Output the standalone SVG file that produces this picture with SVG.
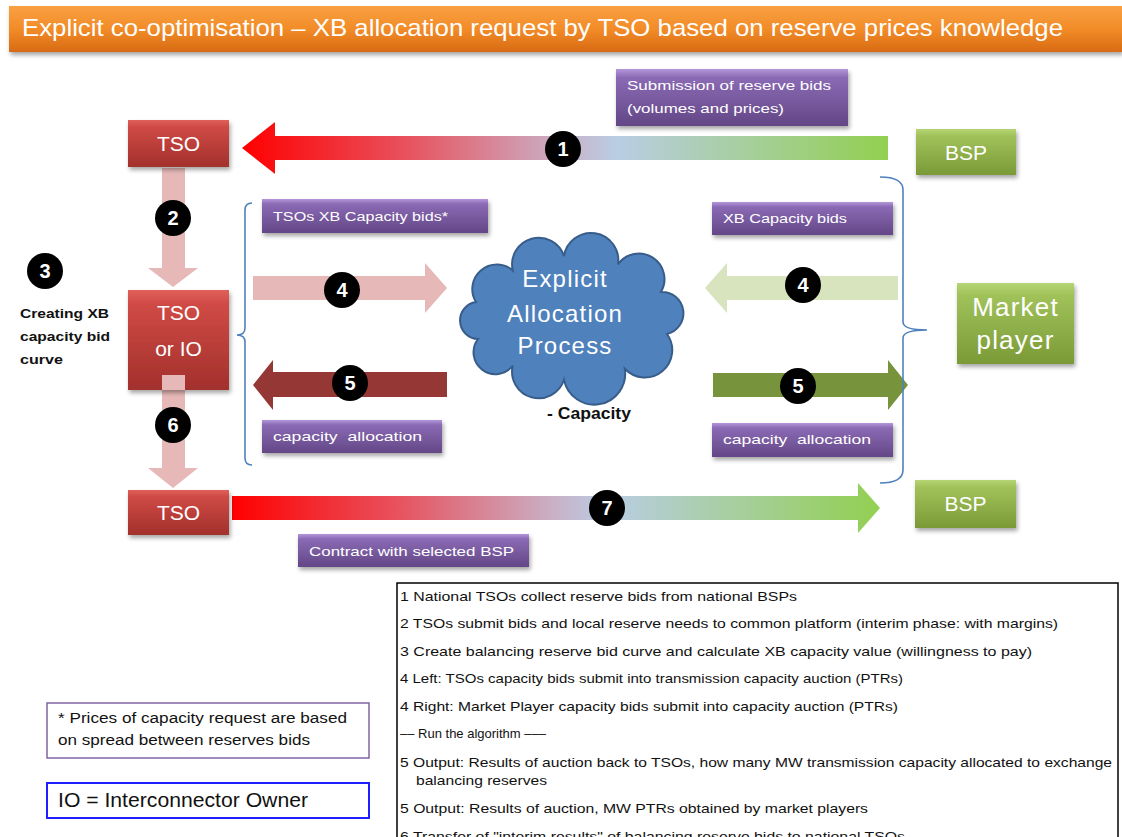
<svg xmlns="http://www.w3.org/2000/svg" width="1122" height="837" viewBox="0 0 1122 837">
  <defs>
    <linearGradient id="gTitle" x1="0" y1="0" x2="0" y2="1">
      <stop offset="0" stop-color="#f9a043"/>
      <stop offset="0.5" stop-color="#f28c28"/>
      <stop offset="1" stop-color="#d86a12"/>
    </linearGradient>
    <linearGradient id="gRed" x1="0" y1="0" x2="0" y2="1">
      <stop offset="0" stop-color="#e0605a"/>
      <stop offset="0.15" stop-color="#cf4a45"/>
      <stop offset="1" stop-color="#a2302c"/>
    </linearGradient>
    <linearGradient id="gGreen" x1="0" y1="0" x2="0" y2="1">
      <stop offset="0" stop-color="#b6d575"/>
      <stop offset="0.15" stop-color="#a1c25a"/>
      <stop offset="1" stop-color="#7a9a37"/>
    </linearGradient>
    <linearGradient id="gPurple" x1="0" y1="0" x2="0" y2="1">
      <stop offset="0" stop-color="#b497da"/>
      <stop offset="0.15" stop-color="#8a6ab4"/>
      <stop offset="1" stop-color="#634786"/>
    </linearGradient>
    <linearGradient id="gFlowLeft" gradientUnits="userSpaceOnUse" x1="242" y1="0" x2="888" y2="0">
      <stop offset="0" stop-color="#ff0000"/>
      <stop offset="0.25" stop-color="#e8505c"/>
      <stop offset="0.5" stop-color="#c9b2c8"/>
      <stop offset="0.58" stop-color="#b9cde4"/>
      <stop offset="1" stop-color="#92d050"/>
    </linearGradient>
    <linearGradient id="gFlowRight" gradientUnits="userSpaceOnUse" x1="232" y1="0" x2="880" y2="0">
      <stop offset="0" stop-color="#ff0000"/>
      <stop offset="0.25" stop-color="#e8505c"/>
      <stop offset="0.5" stop-color="#c9b2c8"/>
      <stop offset="0.58" stop-color="#b9cde4"/>
      <stop offset="1" stop-color="#92d050"/>
    </linearGradient>
    <filter id="shadow" x="-10%" y="-10%" width="130%" height="140%">
      <feDropShadow dx="1.5" dy="3" stdDeviation="2" flood-color="#000" flood-opacity="0.35"/>
    </filter>
  </defs>
  <style>
    .lbl { font-family: "Liberation Sans", Arial, sans-serif; fill: #ffffff; text-anchor: middle; }
    .tag { font-family: "Liberation Sans", Arial, sans-serif; fill: #ffffff; font-size: 13px; }
    .num { font-family: "Liberation Sans", Arial, sans-serif; fill: #ffffff; font-size: 20px; font-weight: bold; text-anchor: middle; }
    .dot { fill: #000000; }
    .brace { fill: none; stroke: #4f81bd; stroke-width: 1.6; }
    .legend { font-family: "Liberation Sans", Arial, sans-serif; fill: #111111; font-size: 13px; }
    .note { font-family: "Liberation Sans", Arial, sans-serif; fill: #111111; }
    .red { fill: url(#gRed); filter: url(#shadow); }
    .green { fill: url(#gGreen); filter: url(#shadow); }
    .purple { fill: url(#gPurple); filter: url(#shadow); }
  </style>

  <rect width="1122" height="837" fill="#ffffff"/>

  <!-- title bar -->
  <g id="title">
    <rect x="9" y="6" width="1113" height="46" fill="url(#gTitle)" filter="url(#shadow)"/>
    <text x="22" y="36" font-family="'Liberation Sans', Arial, sans-serif" font-size="24" fill="#ffffff" textLength="1041" lengthAdjust="spacingAndGlyphs">Explicit co-optimisation – XB allocation request by TSO based on reserve prices knowledge</text>
  </g>

  <!-- connectors: block arrows, step numbers and braces -->
  <g id="connectors">
    <!-- 1: BSP to TSO -->
    <polygon points="242,148 275,122 275,136 888,136 888,160 275,160 275,174" fill="url(#gFlowLeft)"/>
    <!-- 7: TSO to BSP -->
    <polygon points="232,496 858,496 858,483 880,508 858,533 858,520 232,520" fill="url(#gFlowRight)"/>
    <!-- 2: TSO down to TSO or IO -->
    <polygon points="162,168 185,168 185,268 198,268 173,287 148,268 162,268" fill="#e6b9b8"/>
    <!-- 6: TSO or IO down to TSO -->
    <polygon points="162,375 185,375 185,468 198,468 173,488 148,468 162,468" fill="#e6b9b8"/>
    <!-- 4 left: bids into allocation -->
    <polygon points="253,276 425,276 425,263 447,288 425,313 425,300 253,300" fill="#e6b9b8"/>
    <!-- 5 left: allocation back -->
    <polygon points="253,385 273,360 273,372 447,372 447,397 273,397 273,410" fill="#953735"/>
    <!-- 4 right: market bids into allocation -->
    <polygon points="705,288 727,263 727,276 898,276 898,300 727,300 727,313" fill="#d7e4bd"/>
    <!-- 5 right: allocation to market player -->
    <polygon points="713,373 888,373 888,360 908,385 888,410 888,397 713,397" fill="#77933c"/>

    <path class="brace" d="M252,203 Q245,203 245,210 L245,328 Q245,335 237,335 Q245,335 245,342 L245,458 Q245,465 252,465"/>
    <path class="brace" d="M880,177 Q903,177 903,190 L903,322 Q903,330 927,330 Q903,330 903,338 L903,470 Q903,483 880,483"/>

    <circle class="dot" cx="563" cy="149" r="18"/><text class="num" x="563" y="156">1</text>
    <circle class="dot" cx="173" cy="218" r="18"/><text class="num" x="173" y="225">2</text>
    <circle class="dot" cx="45" cy="271" r="18"/><text class="num" x="45" y="278">3</text>
    <circle class="dot" cx="342" cy="290" r="18"/><text class="num" x="342" y="297">4</text>
    <circle class="dot" cx="803" cy="285" r="18"/><text class="num" x="803" y="292">4</text>
    <circle class="dot" cx="350" cy="383" r="18"/><text class="num" x="350" y="390">5</text>
    <circle class="dot" cx="798" cy="386" r="18"/><text class="num" x="798" y="393">5</text>
    <circle class="dot" cx="173" cy="425" r="18"/><text class="num" x="173" y="432">6</text>
    <circle class="dot" cx="607" cy="508" r="18"/><text class="num" x="607" y="515">7</text>
  </g>

  <!-- nodes -->
  <g id="tso-top">
    <rect class="red" x="128" y="120" width="101" height="47"/>
    <text class="lbl" x="178.5" y="151" font-size="21">TSO</text>
  </g>
  <g id="tso-io">
    <rect class="red" x="128" y="290" width="101" height="100"/>
    <text class="lbl" x="178.5" y="320" font-size="21">TSO</text>
    <text class="lbl" x="178.5" y="356" font-size="21">or IO</text>
  </g>
  <g id="tso-bottom">
    <rect class="red" x="128" y="490" width="101" height="45"/>
    <text class="lbl" x="178.5" y="520" font-size="21">TSO</text>
  </g>
  <!-- arrow 6 shaft sits on top of the TSO or IO box -->
  <polygon points="162,375 185,375 185,390 162,390" fill="#e6b9b8"/>

  <g id="bsp-top">
    <rect class="green" x="916" y="129" width="100" height="46"/>
    <text class="lbl" x="966" y="160" font-size="21">BSP</text>
  </g>
  <g id="bsp-bottom">
    <rect class="green" x="915" y="480" width="101" height="48"/>
    <text class="lbl" x="965.5" y="511" font-size="21">BSP</text>
  </g>
  <g id="market-player">
    <rect class="green" x="957" y="283" width="117" height="81"/>
    <text class="lbl" x="1015.5" y="316" font-size="26" letter-spacing="1.2" fill="#f2f6e8">Market</text>
    <text class="lbl" x="1015.5" y="349" font-size="26" letter-spacing="1.2" fill="#f2f6e8">player</text>
  </g>

  <g id="allocation-process">
    <path d="M476,302 A24.5,24.5 0 0 1 512.8,270.5 A26.6,26.6 0 0 1 564,256.2 A27.3,27.3 0 0 1 618,264.3 A25.6,25.6 0 0 1 661,292 A21.3,21.3 0 0 1 667,334 A27.4,27.4 0 0 1 624.8,368.8 A30.9,30.9 0 0 1 564,379.8 A26.6,26.6 0 0 1 512.8,365.5 A21.6,21.6 0 0 1 478,339 A18.6,18.6 0 0 1 476,302 Z" fill="#4f81bd" stroke="#385d8a" stroke-width="2"/>
    <text class="lbl" x="565" y="287" font-size="24" letter-spacing="1.2" fill="#e6edf7">Explicit</text>
    <text class="lbl" x="565" y="322" font-size="24" letter-spacing="1.2" fill="#e6edf7">Allocation</text>
    <text class="lbl" x="565" y="354" font-size="24" letter-spacing="1.2" fill="#e6edf7">Process</text>
    <text x="547" y="419" font-family="'Liberation Sans', Arial, sans-serif" font-size="16" font-weight="bold" fill="#111111" textLength="84" lengthAdjust="spacingAndGlyphs">- Capacity</text>
  </g>

  <g id="step3-note">
    <text x="20" y="318" font-family="'Liberation Sans', Arial, sans-serif" font-size="13" font-weight="bold" fill="#111111" textLength="89" lengthAdjust="spacingAndGlyphs">Creating XB</text>
    <text x="20" y="341" font-family="'Liberation Sans', Arial, sans-serif" font-size="13" font-weight="bold" fill="#111111" textLength="90" lengthAdjust="spacingAndGlyphs">capacity bid</text>
    <text x="20" y="364" font-family="'Liberation Sans', Arial, sans-serif" font-size="13" font-weight="bold" fill="#111111" textLength="43" lengthAdjust="spacingAndGlyphs">curve</text>
  </g>

  <!-- purple message tags -->
  <g id="tag-submission">
    <rect class="purple" x="616" y="69" width="232" height="57"/>
    <text class="tag" x="627" y="90" textLength="204" lengthAdjust="spacingAndGlyphs">Submission  of reserve bids</text>
    <text class="tag" x="627" y="113" textLength="157" lengthAdjust="spacingAndGlyphs">(volumes  and prices)</text>
  </g>
  <g id="tag-tso-bids">
    <rect class="purple" x="262" y="199" width="226" height="34"/>
    <text class="tag" x="273" y="221" textLength="175" lengthAdjust="spacingAndGlyphs">TSOs XB Capacity bids*</text>
  </g>
  <g id="tag-market-bids">
    <rect class="purple" x="712" y="202" width="181" height="33"/>
    <text class="tag" x="723" y="223" textLength="124" lengthAdjust="spacingAndGlyphs">XB Capacity bids</text>
  </g>
  <g id="tag-alloc-left">
    <rect class="purple" x="262" y="420" width="180" height="33"/>
    <text class="tag" x="273" y="441" textLength="149" lengthAdjust="spacingAndGlyphs" style="white-space:pre">capacity  allocation</text>
  </g>
  <g id="tag-alloc-right">
    <rect class="purple" x="712" y="423" width="181" height="34"/>
    <text class="tag" x="723" y="444" textLength="148" lengthAdjust="spacingAndGlyphs" style="white-space:pre">capacity  allocation</text>
  </g>
  <g id="tag-contract">
    <rect class="purple" x="298" y="534" width="231" height="33"/>
    <text class="tag" x="309" y="556" textLength="205" lengthAdjust="spacingAndGlyphs">Contract with selected BSP</text>
  </g>

  <!-- step list -->
  <g id="steps-legend">
    <rect x="397" y="583" width="721" height="300" fill="#ffffff" stroke="#000000" stroke-width="1.5"/>
    <text class="legend" x="400" y="601" textLength="397" lengthAdjust="spacingAndGlyphs">1 National TSOs collect reserve bids from national BSPs</text>
    <text class="legend" x="400" y="628" textLength="658" lengthAdjust="spacingAndGlyphs">2 TSOs submit bids and  local reserve needs to common platform (interim phase: with margins)</text>
    <text class="legend" x="400" y="656" textLength="632" lengthAdjust="spacingAndGlyphs">3 Create balancing reserve bid curve and calculate XB capacity value (willingness to pay)</text>
    <text class="legend" x="400" y="683" textLength="503" lengthAdjust="spacingAndGlyphs">4 Left: TSOs capacity bids submit into transmission capacity auction (PTRs)</text>
    <text class="legend" x="400" y="711" textLength="498" lengthAdjust="spacingAndGlyphs">4 Right: Market Player capacity bids submit into capacity auction (PTRs)</text>
    <text class="legend" x="400" y="738">–– Run the algorithm –––</text>
    <text class="legend" x="400" y="767" textLength="712" lengthAdjust="spacingAndGlyphs">5 Output: Results of auction back to TSOs, how many MW transmission capacity allocated to exchange</text>
    <text class="legend" x="416" y="785" textLength="131" lengthAdjust="spacingAndGlyphs">balancing reserves</text>
    <text class="legend" x="400" y="813" textLength="468" lengthAdjust="spacingAndGlyphs">5 Output: Results of auction, MW PTRs obtained by market players</text>
    <text class="legend" x="400" y="841" textLength="505" lengthAdjust="spacingAndGlyphs">6 Transfer of "interim results" of balancing reserve bids to national TSOs</text>
  </g>

  <g id="price-note">
    <rect x="47" y="703" width="322" height="55" fill="#ffffff" stroke="#8064a2" stroke-width="1.5"/>
    <text class="note" x="58" y="723" font-size="14" textLength="289" lengthAdjust="spacingAndGlyphs">* Prices of capacity request are based</text>
    <text class="note" x="58" y="745" font-size="14" textLength="252" lengthAdjust="spacingAndGlyphs">on spread between reserves bids</text>
  </g>
  <g id="io-note">
    <rect x="47" y="783" width="322" height="35" fill="#ffffff" stroke="#1f1fff" stroke-width="2"/>
    <text class="note" x="58" y="807" font-size="20" fill="#1a1a33" textLength="250" lengthAdjust="spacingAndGlyphs">IO = Interconnector Owner</text>
  </g>
</svg>
